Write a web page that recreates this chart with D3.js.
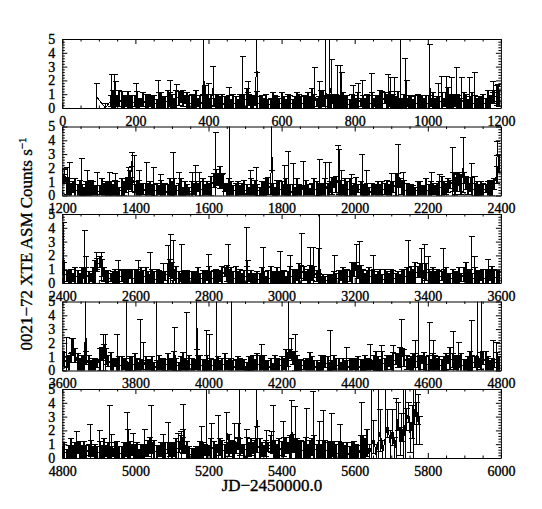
<!DOCTYPE html>
<html>
<head>
<meta charset="utf-8">
<script src="https://cdn.jsdelivr.net/npm/d3@7"></script>
<style>
body{margin:0;background:#fff;}
svg{display:block;}
</style>
</head>
<body>
<svg id="chart" width="542" height="509"></svg>
<script>
// time axis of each strip, JD-2450000
var panelStarts = [0, 1200, 2400, 3600, 4800];
var panelSpan = 1200;
var xTickLabels = [
  [0, 200, 400, 600, 800, 1000, 1200],
  [1200, 1400, 1600, 1800, 2000, 2200, 2400],
  [2400, 2600, 2800, 3000, 3200, 3400, 3600],
  [3600, 3800, 4000, 4200, 4400, 4600, 4800],
  [4800, 5000, 5200, 5400, 5600, 5800, 6000]
];
var yTickLabels = [0, 1, 2, 3, 4, 5];
var rateMax = 5;
var sampleStep = 6; // days between binned points

// strip 1
var start1 = 132;
var rate1 = [
.5,.6,.4,.5,.7,.4,.3,.5,.6,.4, .3,.5,.4,.2,.4,.6,.3,.4,.5,.3,
.4,.3,.5,.4,.3,.4,.5,.6,.4,.3, .6,.7,.8,.7,.6,.5,.4,.3,.4,.5,
.4,.3,.5,.8,.4,.3,.5,.4,.3,.4, .3,.2,.4,.3,.2,.3,.4,.3,.2,.4,
.3,.5,.7,.6,.4,.3,.5,.4,.3,.4, .3,.4,.3,.2,.3,.4,.2,.3,.4,.3,
.2,.3,.4,.3,.2,.3,.5,.4,.3,.4, .5,.4,.6,.5,.4,.3,.6,.7,.5,.4,
.5,.6,.4,.3,.4,.5,.3,.4,.3,.2, .3,.4,.3,.5,.4,.3,.2,.3,.4,.3,
.4,.3,.4,.5,.6,.7,.5,.4,.3,.4, .3,.4,.3,.2,.3,.4,.3,.3,.2,.3,
.4,.3,.2,.3,.4,.3,.4,.3,.2,.3, .4,.5,.4,.6,.7,.5,.4,.5,.3,.4,
.3,.4,.5,.3,.2,.3,.4,.3,.2,.3, .4,.3,.5,.4,.6,.8,.9,.7];
var err1 = [
.4,.7,.5,.3,.6,.8,.5,.4,.6,.5, .6,.4,.8,.5,.3,.5,.7,.6,.4,.5,
.5,.3,.6,.7,.5,.4,.8,.5,.6,.4, .7,.5,.4,.6,.3,.6,.5,.7,.5,.8,
.3,.6,.5,.8,.6,.4,.5,.3,.7,.6, .5,.8,.4,.5,.7,.3,.6,.5,.4,.6,
.6,.5,.7,.4,.5,.6,.3,.8,.5,.5, .4,.6,.3,.5,.8,.5,.6,.4,.7,.5,
.4,.7,.5,.3,.6,.8,.5,.4,.6,.5, .6,.4,.8,.5,.3,.5,.7,.6,.4,.5,
.5,.3,.6,.7,.5,.4,.8,.5,.6,.4, .7,.5,.4,.6,.3,.6,.5,.7,.5,.8,
.3,.6,.5,.8,.6,.4,.5,.3,.7,.6, .5,.8,.4,.5,.7,.3,.6,.5,.4,.6,
.6,.5,.7,.4,.5,.6,.3,.8,.5,.5, .4,.6,.3,.5,.8,.5,.6,.4,.7,.5,
.4,.7,.5,.3,.6,.8,.5,.4,.6,.5, .6,.4,.8,.5,.3,.5,.7,.6];
var day1x = [94,118,135,144,146,203,263,295,313,386,400,413,457,494,509,532,691,705,721,732,737,753,760,764,796,810,822,846,892,898,910,924,938,942,1006,1029,1038,1052,1065,1079,1093,1115,1129,1179,1193];
var rate1x = [.8,0,.6,.7,.6,.6,.5,.6,.8,2.9,.6,1.6,.5,.7,1.5,4.0,.8,.6,1.2,1.5,.9,1.0,.8,.7,.5,.6,.7,.6,.7,1.7,.6,.8,.7,.6,1.5,.5,.7,.6,.8,.7,.6,.5,.6,1.5,1.1];
var err1x = [1.0,.3,1.8,1.7,1.3,1.2,1.5,1.4,.9,2.6,1.2,1.4,1.0,3.0,.4,1.4,2.1,1.3,3.8,4.0,2.6,2.1,2.3,1.9,1.1,1.2,1.3,1.9,1.7,.5,1.6,4.5,2.9,1.4,3.1,1.3,1.6,1.7,1.4,2.2,1.6,1.7,2.0,.4,.6];

// strip 2
var start2 = 1200;
var rate2 = [
1.4,1.2,.7,.5,.4,.6,.4,.3,.5,.4, .3,.4,.5,.3,.4,.3,.2,.4,.5,.3,
.4,.5,.3,.4,.6,.4,.3,.4,.5,.7, .9,1.1,.8,.5,.4,.3,.4,.5,.3,.4,
.3,.2,.4,.3,.4,.5,.3,.2,.3,.4, .5,.4,.3,.4,.5,.3,.4,.3,.2,.4,
.5,.4,.6,.5,.4,.3,.4,.5,.7,1.1, 1.3,1.2,1.3,1.0,.6,.4,.5,.4,.3,.4,
.5,.4,.3,.4,.3,.2,.4,.3,.5,.4, .3,.4,.5,.4,.7,.5,.4,.3,.4,.5,
.4,.3,.5,.4,.3,.2,.3,.4,.3,.2, .3,.4,.3,.2,.3,.4,.5,.4,.3,.4,
.5,.4,.6,.7,.9,.8,.6,.4,.3,.4, .5,.4,.3,.4,.6,.5,.4,.3,.4,.3,
.2,.3,.4,.3,.2,.3,.4,.5,.4,.3, .4,.6,.8,1.1,.9,.6,.4,.3,.4,.3,
.2,.3,.4,.3,.2,.3,.4,.3,.4,.5, .4,.3,.5,.6,.4,.5,.7,.8,1.0,.7,
.9,1.2,.8,1.3,.9,.7,.6,.5,.4,.5, .4,.3,.4,.5,.4,.3,.5,.8,1.5,2.3];
var err2 = [
.5,.3,.6,.7,.5,.4,.8,.5,.6,.4, .3,.6,.5,.8,.6,.4,.5,.3,.7,.6,
.6,.5,.7,.4,.5,.6,.3,.8,.5,.5, .4,.7,.5,.3,.6,.8,.5,.4,.6,.5,
.7,.5,.4,.6,.3,.6,.5,.7,.5,.8, .5,.8,.4,.5,.7,.3,.6,.5,.4,.6,
.4,.6,.3,.5,.8,.5,.6,.4,.7,.5, .6,.4,.8,.5,.3,.5,.7,.6,.4,.5,
.5,.3,.6,.7,.5,.4,.8,.5,.6,.4, .3,.6,.5,.8,.6,.4,.5,.3,.7,.6,
.6,.5,.7,.4,.5,.6,.3,.8,.5,.5, .4,.7,.5,.3,.6,.8,.5,.4,.6,.5,
.7,.5,.4,.6,.3,.6,.5,.7,.5,.8, .5,.8,.4,.5,.7,.3,.6,.5,.4,.6,
.4,.6,.3,.5,.8,.5,.6,.4,.7,.5, .6,.4,.8,.5,.3,.5,.7,.6,.4,.5,
.5,.3,.6,.7,.5,.4,.8,.5,.6,.4, .3,.6,.5,.8,.6,.4,.5,.3,.7,.6,
.6,.5,.7,.4,.5,.6,.3,.8,.5,.5, .4,.7,.5,.3,.6,.8,.5,.4,.6,.6];
var day2x = [1206,1213,1220,1253,1268,1295,1330,1345,1382,1391,1397,1410,1431,1450,1470,1504,1520,1556,1565,1575,1620,1640,1657,1715,1730,1773,1809,1818,1832,1859,1905,1921,1930,1955,1958,1964,1992,2021,2033,2101,2119,2133,2211,2233,2268,2274,2288,2297,2320,2329,2390];
var rate2x = [1.6,.7,.8,.9,.6,.6,.6,.6,.7,2.6,1.2,.6,.7,.6,.6,.8,.6,.6,.7,.6,1.3,.7,1.0,.6,.7,3.6,.7,.8,.8,.7,.8,.7,.6,1.2,.9,.6,.6,1.0,.7,.6,1.7,.8,.6,.6,1.0,.8,1.0,2.2,1.8,.7,3.4];
var err2x = [.3,1.3,1.6,1.8,1.2,1.1,1.1,1.0,1.3,.5,1.7,1.2,1.7,1.4,.9,2.3,1.1,1.1,1.5,1.1,3.3,.9,4.5,1.2,1.3,1.8,1.5,2.4,1.5,1.8,1.8,1.7,1.8,2.4,2.4,1.2,.9,2.0,1.1,1.0,2.0,.9,1.1,.9,2.5,.8,.7,2.0,.5,.7,.5];

// strip 3
var start3 = 2400;
var rate3 = [
1.1,.7,.5,.4,.3,.4,.5,.4,.3,.5, .7,.4,.3,.4,.5,.8,1.3,1.5,1.1,.6,
.4,.3,.4,.3,.2,.3,.4,.5,.3,.4, .5,.6,.4,.3,.5,.4,.3,.4,.5,.4,
.3,.4,.3,.2,.3,.4,.3,.5,.7,1.1, .9,.6,.4,.3,.4,.3,.2,.3,.4,.3,
.2,.3,.4,.3,.4,.3,.5,.4,.3,.4, .3,.4,.5,.6,.8,.7,.5,.4,.3,.4,
.3,.2,.3,.4,.5,.4,.3,.2,.2,.2, .3,.4,.3,.2,.3,.4,.3,.4,.5,.3,
.4,.3,.2,.3,.4,.5,.4,.6,.7,.8, .7,.5,.4,.6,.7,.8,.5,.3,.2,.2,
.2,.2,.2,.3,.4,.3,.4,.5,.4,.3, .4,.5,.7,1.0,1.2,.8,.6,.4,.3,.4,
.5,.4,.3,.2,.3,.4,.3,.2,.3,.2, .3,.4,.3,.2,.3,.4,.5,.4,.3,.4,
.5,.7,.8,.9,.7,.6,.8,.5,.4,.5, .4,.3,.4,.5,.4,.3,.2,.3,.4,.3,
.4,.5,.4,.6,.7,.5,.4,.3,.4,.3, .4,.5,.4,.3,.5,.6,.4,.5,.3,.4];
var err3 = [
.5,.8,.4,.5,.7,.3,.6,.5,.4,.6, .4,.7,.5,.3,.6,.8,.5,.4,.6,.5,
.4,.6,.3,.5,.8,.5,.6,.4,.7,.5, .5,.3,.6,.7,.5,.4,.8,.5,.6,.4,
.3,.6,.5,.8,.6,.4,.5,.3,.7,.6, .6,.4,.8,.5,.3,.5,.7,.6,.4,.5,
.6,.5,.7,.4,.5,.6,.3,.8,.5,.5, .7,.5,.4,.6,.3,.6,.5,.7,.5,.8,
.5,.8,.4,.5,.7,.3,.6,.5,.4,.6, .4,.7,.5,.3,.6,.8,.5,.4,.6,.5,
.4,.6,.3,.5,.8,.5,.6,.4,.7,.5, .5,.3,.6,.7,.5,.4,.4,.4,.3,.4,
.3,.4,.4,.3,.4,.4,.5,.3,.7,.6, .6,.4,.8,.5,.3,.5,.7,.6,.4,.5,
.6,.5,.7,.4,.5,.6,.3,.8,.5,.5, .7,.5,.4,.6,.3,.6,.5,.7,.5,.8,
.5,.8,.4,.5,.7,.3,.6,.5,.4,.6, .4,.7,.5,.3,.6,.8,.5,.4,.6,.5,
.4,.6,.3,.5,.8,.5,.6,.4,.7,.5, .5,.3,.6,.7,.5,.4,.8,.5,.6,.4];
var day3x = [2404,2462,2466,2494,2508,2553,2608,2640,2676,2690,2697,2704,2727,2800,2854,2904,2908,2950,2996,3023,3055,3078,3087,3101,3105,3146,3205,3214,3251,3347,3383,3392,3401,3442,3520,3529,3566];
var rate3x = [1.0,.8,.7,1.6,1.2,.6,.6,.6,.5,.8,1.3,.9,.7,.6,1.0,.9,.7,.6,.5,.7,.9,.8,.7,.8,1.0,.5,1.3,.9,.6,.6,.8,.9,.7,.6,.7,.6,.6];
var err3x = [3.4,3.0,1.2,.6,1.0,1.0,1.0,1.6,.9,1.9,2.2,2.2,2.1,1.5,1.8,3.1,.9,2.0,1.8,1.3,2.7,1.8,1.9,1.7,4.5,1.5,1.5,2.1,1.4,2.5,1.7,1.9,1.2,1.9,2.7,1.3,1.1];

// strip 4
var start4 = 3600;
var rate4 = [
.7,.8,.6,.5,.9,1.7,1.1,.5,.4,.3, .5,.9,.4,.3,.4,.3,.5,.8,1.2,1.4,
1.0,.7,.5,.4,.6,.4,.3,.4,.5,.4, .3,.4,.5,.4,.3,.2,.3,.4,.3,.2,
.3,.4,.3,.2,.3,.4,.3,.4,.5,.4, .5,.7,.4,.3,.4,.5,.4,.3,.5,.4,
.3,.4,.5,.4,.3,.4,.3,.2,.3,.4, .3,.2,.3,.4,.5,.4,.3,.4,.3,.2,
.3,.4,.3,.2,.3,.4,.5,.4,.3,.4, .5,.6,.4,.3,.2,.3,.2,.3,.4,.3,
.4,.5,.7,.8,1.2,.9,.7,.5,.4,.3, .4,.3,.4,.5,.4,.3,.2,.3,.4,.5,
.6,.4,.3,.2,.3,.4,.3,.2,.2,.2, .3,.2,.3,.4,.3,.2,.3,.4,.5,.4,
.3,.4,.5,.7,.5,.4,.6,.4,.5,.7, .6,.5,.8,.7,1.0,1.3,.9,.6,.5,.4,
.5,.7,.6,.5,.8,.7,.5,.4,.3,.4, .5,.4,.3,.4,.5,.6,.8,.9,.7,.6,
.5,.6,.4,.3,.4,.5,.7,.5,.6,.4, .5,.7,.9,.6,.4,.3,.4,.5,.6,.4];
var err4 = [
.7,.5,.4,.6,.3,.6,.5,.7,.5,.8, .6,.5,.7,.4,.5,.6,.3,.8,.5,.5,
.6,.4,.8,.5,.3,.5,.7,.6,.4,.5, .3,.6,.5,.8,.6,.4,.5,.3,.7,.6,
.4,.6,.3,.5,.8,.5,.6,.4,.7,.5, .4,.7,.5,.3,.6,.8,.5,.4,.6,.5,
.5,.3,.6,.7,.5,.4,.8,.5,.6,.4, .5,.8,.4,.5,.7,.3,.6,.5,.4,.6,
.7,.5,.4,.6,.3,.6,.5,.7,.5,.8, .6,.5,.7,.4,.5,.6,.3,.8,.5,.5,
.6,.4,.8,.5,.3,.5,.7,.6,.4,.5, .3,.6,.5,.8,.6,.4,.5,.3,.7,.6,
.4,.6,.3,.5,.8,.5,.6,.4,.7,.5, .4,.7,.5,.3,.6,.8,.5,.4,.6,.5,
.5,.3,.6,.7,.5,.4,.8,.5,.6,.4, .5,.8,.4,.5,.7,.3,.6,.5,.4,.6,
.7,.5,.4,.6,.3,.6,.5,.7,.5,.8, .6,.5,.7,.4,.5,.6,.3,.8,.5,.5,
.6,.4,.8,.5,.3,.5,.7,.6,.4,.5, .3,.6,.5,.8,.6,.4,.5,.3,.7,.6];
var day4x = [3612,3626,3664,3712,3717,3751,3776,3813,3822,3858,3908,3940,3968,3995,4004,4022,4063,4146,4220,4227,4237,4333,4378,4442,4474,4506,4529,4565,4574,4606,4615,4670,4684,4720,4735,4748,4779,4788];
var rate4x = [.8,1.8,3.4,1.0,1.3,.8,.8,.9,.7,.9,1.2,.8,3.5,.8,.7,.8,.8,.6,1.0,1.5,.8,.7,.5,.6,.6,.7,1.4,.7,.9,.8,.7,.9,.6,1.0,1.5,.9,.7,.8];
var err4x = [1.6,.5,2.0,1.6,1.3,1.8,4.6,2.8,1.3,4.5,1.9,3.4,2.0,2.1,1.9,4.5,4.5,1.3,4.5,.8,1.8,2.2,1.2,1.3,1.2,1.1,2.3,1.5,4.5,2.7,1.5,1.9,1.4,2.6,4.0,4.5,1.5,1.2];

// strip 5
var start5 = 4800;
var rate5 = [
.4,.5,.3,.4,.6,.4,.5,.7,.5,.4, .5,.4,.6,.7,.5,.4,.3,.5,.4,.6,
.5,.4,.3,.4,.5,.4,.3,.4,.5,.6, .5,.4,.6,.5,.4,.3,.4,.5,.6,.7,
.9,.7,.5,.4,.5,.6,.4,.5,.7,.6, .5,.6,.7,.8,1.1,.9,.6,.4,.3,.2,
.3,.2,.3,.4,.5,.6,.4,.5,.7,.6, .5,.7,.8,.6,.5,.7,.9,.8,.6,.7,
1.0,.8,.6,.5,.7,.6,.8,.7,.6,.9, .7,.6,.5,.7,.8,1.0,.8,.6,.5,.6,
.7,.8,.9,.7,.8,1.1,.9,.7,.6,.5, .6,.7,.5,.6,.8,.7,.5,.6,.4,.5,
.6,.5,.4,.6,.5,.4,.3,.5,.4,.3, .4,.2,.3,.5,.4,.2,.7,.8,.5,1.1];
var err5 = [
.4,.6,.3,.5,.8,.5,.6,.4,.7,.5, .7,.5,.4,.6,.3,.6,.5,.7,.5,.8,
.4,.7,.5,.3,.6,.8,.5,.4,.6,.5, .5,.8,.4,.5,.7,.3,.6,.5,.4,.6,
.6,.4,.8,.5,.3,.5,.7,.6,.4,.5, .6,.5,.7,.4,.5,.6,.3,.8,.5,.5,
.3,.6,.5,.8,.6,.4,.5,.3,.7,.6, .5,.3,.6,.7,.5,.4,.8,.5,.6,.4,
.4,.6,.3,.5,.8,.5,.6,.4,.7,.5, .7,.5,.4,.6,.3,.6,.5,.7,.5,.8,
.5,.7,.6,.4,.8,.6,.5,.7,.6,.8, .6,.8,.5,.7,.6,.9,.5,.7,.6,.8,
.7,.6,.8,.5,.7,.6,.9,.6,.7,.6, .7,.6,.8,.7,.6,.7,.9,.8,.9,1.0];
var day5x = [4839,4876,4903,4930,4935,4978,4981,4994,5026,5044,5076,5090,5117,5126,5131,5181,5195,5209,5227,5250,5272,5282,5286,5304,5332,5359,5373,5377,5405,5428,5437,5469,5487,5505,5514,5537,5560,5619,5640,5646,5652,5659,5664,5670,5676,5683,5690,5697,5704,5709,5714,5719,5724,5729,5733,5738,5743,5748,5752,5757,5761,5766,5770,5774,5778];
var rate5x = [.7,.7,.8,.8,1.1,.9,.7,.9,.7,1.0,.6,.7,.7,.8,3.0,.7,.9,.8,.8,1.9,.9,2.0,1.2,.8,3.8,.8,1.3,.9,.8,2.1,.9,.8,.9,.8,.8,.7,.8,1.9,.2,.9,1.5,.1,1.2,2.0,.3,1.4,2.5,1.0,2.2,.5,1.5,3.0,1.2,2.2,1.0,2.5,2.8,3.3,1.5,2.6,1.8,4.0,2.5,3.5,2.0];
var err5x = [1.2,1.7,1.2,3.0,.6,2.4,1.35,.9,1.4,2.8,1.1,1.9,1.1,1.1,.9,1.6,4.5,1.7,2.3,1.4,1.6,.5,4.0,1.3,1.5,1.2,.6,2.9,1.85,2.1,2.8,2.8,3.9,1.85,2.65,2.5,1.6,2.1,.8,4.5,1.2,.9,4.2,1.5,1.0,4.0,1.0,1.0,1.3,1.0,2.8,1.0,1.0,1.0,4.5,2.8,.8,.7,1.1,1.2,3.5,1.0,1.5,1.1,1.0];

var strips = [
  {start: start1, rate: rate1, err: err1, day: day1x, xrate: rate1x, xerr: err1x},
  {start: start2, rate: rate2, err: err2, day: day2x, xrate: rate2x, xerr: err2x},
  {start: start3, rate: rate3, err: err3, day: day3x, xrate: rate3x, xerr: err3x},
  {start: start4, rate: rate4, err: err4, day: day4x, xrate: rate4x, xerr: err4x},
  {start: start5, rate: rate5, err: err5, day: day5x, xrate: rate5x, xerr: err5x}
];

var fontFamily = '"Liberation Serif","DejaVu Serif",serif';
var left = 62.3, right = 500.9, top0 = 39, panelH = 69, pitch = 87.5;
var capHalf = 3;
var svg = d3.select('#chart');

function fixText(g, size){
  g.selectAll('text').attr('font-family', fontFamily).attr('font-size', size)
    .attr('fill', '#000').attr('stroke', '#000').attr('stroke-width', 0.35);
  g.attr('font-family', null).attr('font-size', null);
}

strips.forEach(function(p, i){
  var t0 = panelStarts[i];
  var top = top0 + i * pitch, bottom = top + panelH;
  var x = d3.scaleLinear().domain([t0, t0 + panelSpan]).range([left, right]);
  var y = d3.scaleLinear().domain([0, rateMax]).range([bottom, top]);

  var pts = p.rate.map(function(r, k){
    return {t: p.start + k * sampleStep, r: r, e: p.err[k], w: 2};
  });
  p.day.forEach(function(d, k){
    pts.push({t: d, r: p.xrate[k], e: p.xerr[k], w: 1});
  });
  pts.sort(function(a, b){ return a.t - b.t; });

  svg.append('clipPath').attr('id', 'clip' + i)
    .append('rect').attr('x', left).attr('y', top)
    .attr('width', right - left).attr('height', panelH);
  var g = svg.append('g').attr('clip-path', 'url(#clip' + i + ')')
    .attr('stroke', '#000').attr('shape-rendering', 'crispEdges');

  g.append('path').datum(pts)
    .attr('fill', 'none').attr('stroke-width', 1)
    .attr('d', d3.line().x(function(d){ return x(d.t); }).y(function(d){ return y(d.r); }));

  g.selectAll('line.bar').data(pts).enter().append('line').attr('class', 'bar')
    .attr('x1', function(d){ return x(d.t); }).attr('x2', function(d){ return x(d.t); })
    .attr('y1', function(d){ return y(d.r - d.e); }).attr('y2', function(d){ return y(d.r + d.e); })
    .attr('stroke-width', function(d){ return d.w; });
  g.selectAll('line.hi').data(pts).enter().append('line').attr('class', 'hi')
    .attr('x1', function(d){ return x(d.t) - capHalf; }).attr('x2', function(d){ return x(d.t) + capHalf; })
    .attr('y1', function(d){ return y(d.r + d.e); }).attr('y2', function(d){ return y(d.r + d.e); })
    .attr('stroke-width', 1);
  g.selectAll('line.lo').data(pts).enter().append('line').attr('class', 'lo')
    .attr('x1', function(d){ return x(d.t) - capHalf; }).attr('x2', function(d){ return x(d.t) + capHalf; })
    .attr('y1', function(d){ return y(d.r - d.e); }).attr('y2', function(d){ return y(d.r - d.e); })
    .attr('stroke-width', 1);

  // axes, ticks pointing inward
  var minorX = d3.range(t0, t0 + panelSpan + 1, 50).filter(function(v){ return v % 200 !== 0; });
  var minorY = d3.range(0.2, rateMax, 0.2).filter(function(v){ return Math.abs(v - Math.round(v)) > 0.01; });

  var gb = svg.append('g').attr('transform', 'translate(0,' + bottom + ')')
    .call(d3.axisBottom(x).tickValues(xTickLabels[i]).tickSizeInner(-5).tickSizeOuter(0)
      .tickPadding(8).tickFormat(d3.format('d')));
  fixText(gb, 14);
  svg.append('g').attr('transform', 'translate(0,' + bottom + ')')
    .call(d3.axisBottom(x).tickValues(minorX).tickSizeInner(-2.5).tickSizeOuter(0).tickFormat(''))
    .call(function(s){ s.select('.domain').remove(); });

  svg.append('g').attr('transform', 'translate(0,' + top + ')')
    .call(d3.axisTop(x).tickValues(xTickLabels[i]).tickSizeInner(-5).tickSizeOuter(0).tickFormat(''));
  svg.append('g').attr('transform', 'translate(0,' + top + ')')
    .call(d3.axisTop(x).tickValues(minorX).tickSizeInner(-2.5).tickSizeOuter(0).tickFormat(''))
    .call(function(s){ s.select('.domain').remove(); });

  var gl = svg.append('g').attr('transform', 'translate(' + left + ',0)')
    .call(d3.axisLeft(y).tickValues(yTickLabels).tickSizeInner(-5).tickSizeOuter(0)
      .tickPadding(7).tickFormat(d3.format('d')));
  fixText(gl, 14);
  svg.append('g').attr('transform', 'translate(' + left + ',0)')
    .call(d3.axisLeft(y).tickValues(minorY).tickSizeInner(-2.5).tickSizeOuter(0).tickFormat(''))
    .call(function(s){ s.select('.domain').remove(); });

  svg.append('g').attr('transform', 'translate(' + right + ',0)')
    .call(d3.axisRight(y).tickValues(yTickLabels).tickSizeInner(-5).tickSizeOuter(0).tickFormat(''));
  svg.append('g').attr('transform', 'translate(' + right + ',0)')
    .call(d3.axisRight(y).tickValues(minorY).tickSizeInner(-2.5).tickSizeOuter(0).tickFormat(''))
    .call(function(s){ s.select('.domain').remove(); });
});

svg.append('text').attr('x', 272).attr('y', 491)
  .attr('text-anchor', 'middle').attr('font-family', fontFamily).attr('font-size', 17)
  .attr('stroke', '#000').attr('stroke-width', 0.35)
  .text('JD\u22122450000.0');

var yTitle = svg.append('text')
  .attr('transform', 'translate(32,244) rotate(-90)')
  .attr('text-anchor', 'middle').attr('font-family', fontFamily).attr('font-size', 17)
  .attr('stroke', '#000').attr('stroke-width', 0.35);
yTitle.append('tspan').text('0021\u221272 XTE ASM Counts s');
yTitle.append('tspan').attr('dy', -6).attr('font-size', 11).text('\u22121');
</script>
</body>
</html>
